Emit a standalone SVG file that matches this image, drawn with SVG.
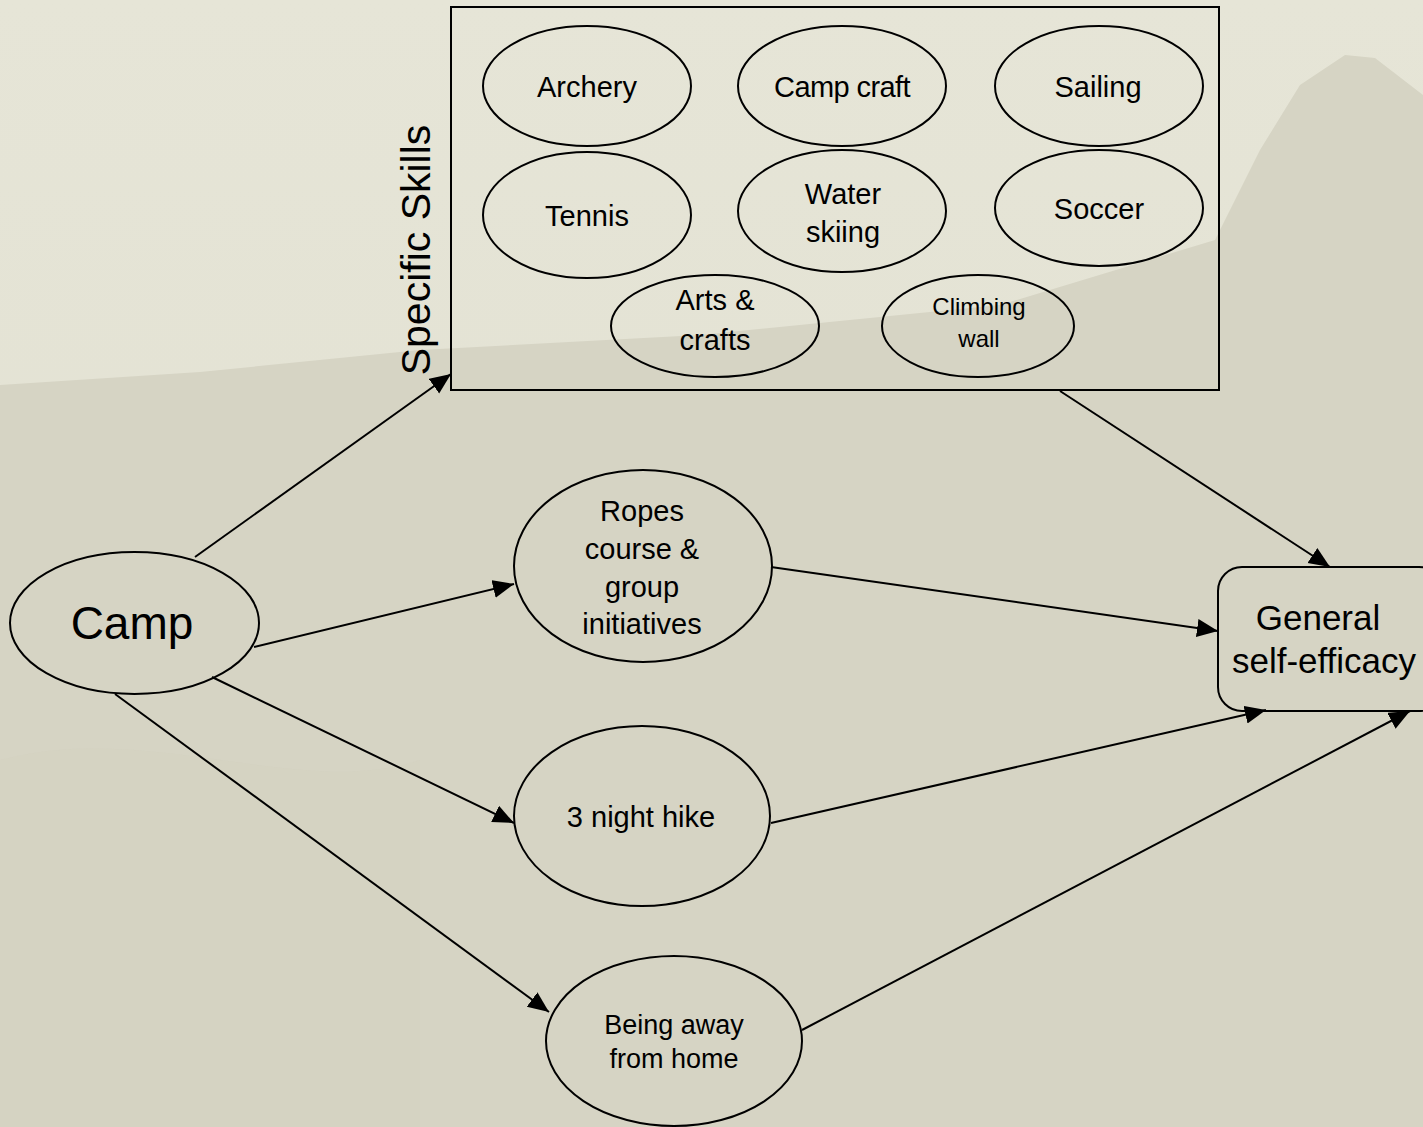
<svg xmlns="http://www.w3.org/2000/svg" width="1423" height="1127" viewBox="0 0 1423 1127">
<defs>
<marker id="ah" markerUnits="userSpaceOnUse" markerWidth="22" markerHeight="20" refX="21" refY="9" orient="auto">
<path d="M0,0 L21,9 L0,18 Z" fill="#000"/>
</marker>
<linearGradient id="sky" x1="0" y1="0" x2="0" y2="1">
<stop offset="0" stop-color="#e6e5d7"/>
<stop offset="1" stop-color="#e0dfd0"/>
</linearGradient>
</defs>
<style>
.n{fill:none;stroke:#000;stroke-width:2}
.t{font-family:"Liberation Sans",Arial,sans-serif;fill:#000;text-anchor:middle}
.c{stroke:#000;stroke-width:2;fill:none;marker-end:url(#ah)}
</style>
<rect x="0" y="0" width="1423" height="1127" fill="url(#sky)"/>
<path d="M0,385 L200,372 L420,350 L700,335 L1000,305 L1215,240 L1260,150 L1300,85 L1345,55 L1375,58 L1423,95 L1423,1127 L0,1127 Z" fill="#d6d4c4"/>
<path d="M0,760 C150,720 300,800 420,760 L420,1127 L0,1127 Z" fill="#d3d1c0" opacity="0.5"/>

<g id="connectors">
<line class="c" x1="195" y1="557" x2="451" y2="374"/>
<line class="c" x1="254" y1="647" x2="514" y2="584"/>
<line class="c" x1="212" y1="677" x2="514" y2="823"/>
<line class="c" x1="115" y1="694" x2="549" y2="1012"/>
<line class="c" x1="1060" y1="391" x2="1330" y2="567"/>
<line class="c" x1="771" y1="567" x2="1218" y2="631"/>
<line class="c" x1="771" y1="823" x2="1266" y2="710"/>
<line class="c" x1="802" y1="1030" x2="1410" y2="711"/>
</g>

<g id="camp">
<ellipse class="n" cx="134.5" cy="623" rx="124.5" ry="71"/>
<text class="t" x="132" y="639" font-size="46">Camp</text>
</g>

<g id="specific-skills">
<rect class="n" x="451" y="7" width="768" height="383"/>
<text class="t" transform="translate(430,250) rotate(-90)" font-size="41">Specific Skills</text>
</g>

<g id="archery">
<ellipse class="n" cx="587" cy="86" rx="104" ry="60"/>
<text class="t" x="587" y="97" font-size="29">Archery</text>
</g>
<g id="camp-craft">
<ellipse class="n" cx="842" cy="86" rx="104" ry="60"/>
<text class="t" x="842" y="97" font-size="29" letter-spacing="-0.6">Camp craft</text>
</g>
<g id="sailing">
<ellipse class="n" cx="1099" cy="86" rx="104" ry="60"/>
<text class="t" x="1098" y="97" font-size="29">Sailing</text>
</g>
<g id="tennis">
<ellipse class="n" cx="587" cy="215" rx="104" ry="63"/>
<text class="t" x="587" y="226" font-size="29">Tennis</text>
</g>
<g id="water-skiing">
<ellipse class="n" cx="842" cy="211" rx="104" ry="61"/>
<text class="t" x="843" y="204" font-size="29">Water</text>
<text class="t" x="843" y="242" font-size="29">skiing</text>
</g>
<g id="soccer">
<ellipse class="n" cx="1099" cy="208" rx="104" ry="58"/>
<text class="t" x="1099" y="219" font-size="29">Soccer</text>
</g>
<g id="arts-crafts">
<ellipse class="n" cx="715" cy="326" rx="104" ry="51"/>
<text class="t" x="715" y="310" font-size="29">Arts &amp;</text>
<text class="t" x="715" y="350" font-size="29">crafts</text>
</g>
<g id="climbing-wall">
<ellipse class="n" cx="978" cy="326" rx="96" ry="51"/>
<text class="t" x="979" y="315" font-size="24">Climbing</text>
<text class="t" x="979" y="347" font-size="24">wall</text>
</g>

<g id="ropes">
<ellipse class="n" cx="643" cy="566" rx="129" ry="96"/>
<text class="t" x="642" y="521" font-size="29">Ropes</text>
<text class="t" x="642" y="559" font-size="29">course &amp;</text>
<text class="t" x="642" y="597" font-size="29">group</text>
<text class="t" x="642" y="634" font-size="29">initiatives</text>
</g>

<g id="hike">
<ellipse class="n" cx="642" cy="816" rx="128" ry="90"/>
<text class="t" x="641" y="827" font-size="29">3 night hike</text>
</g>

<g id="away">
<ellipse class="n" cx="674" cy="1041" rx="128" ry="85"/>
<text class="t" x="674" y="1034" font-size="27">Being away</text>
<text class="t" x="674" y="1068" font-size="27">from home</text>
</g>

<g id="gse">
<rect class="n" x="1218" y="567" width="225" height="144" rx="24" ry="24"/>
<text class="t" x="1318" y="630" font-size="35">General</text>
<text class="t" x="1324" y="673" font-size="35">self-efficacy</text>
</g>
</svg>
